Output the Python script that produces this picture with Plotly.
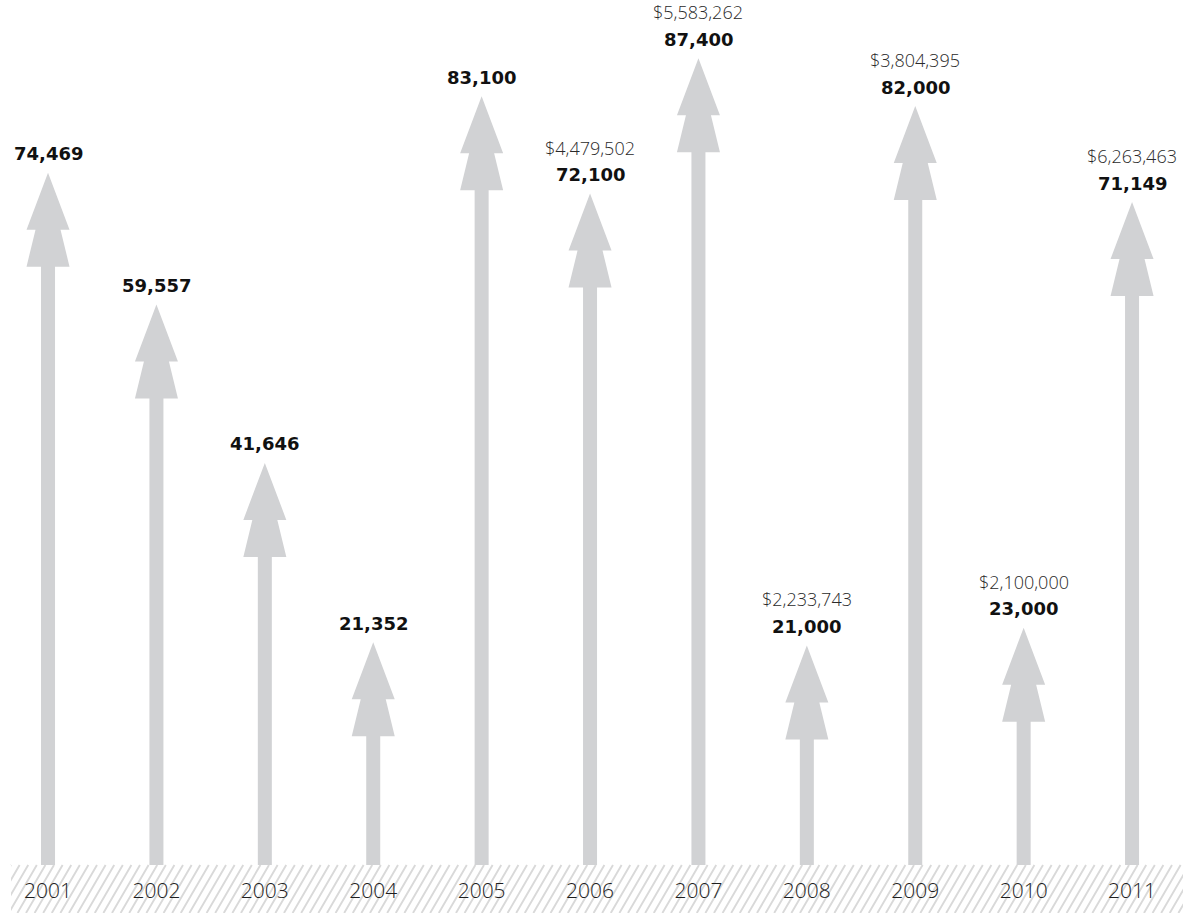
import plotly.graph_objects as go

# ---- data ----
years = [2001, 2002, 2003, 2004, 2005, 2006, 2007, 2008, 2009, 2010, 2011]
households = [74469, 59557, 41646, 21352, 83100, 72100, 87400, 21000, 82000, 23000, 71149]
dollars = [None, None, None, None, None, "$4,479,502", "$5,583,262",
           "$2,233,743", "$3,804,395", "$2,100,000", "$6,263,463"]
year_labels = [str(y) for y in years]

# ---- style ----
W, H = 1183, 913
MB = 48
Y_MIN, Y_MAX = -3834, 93997
X_MIN, X_MAX = 2000.557, 2011.47
GRAY = "#d1d2d4"

fig = go.Figure()

# invisible anchor points (hover)
fig.add_trace(go.Scatter(
    x=years, y=households, mode="markers",
    marker=dict(size=1, color="rgba(0,0,0,0)"),
    hovertemplate="%{x}: %{y:,}<extra></extra>", showlegend=False,
))

# arrows: pixel-sized path anchored at each data point; the shaft runs
# down and is clipped at the bottom of the plot area
arrow = ("M 0 0 L 21.5 -57 L 12.5 -57 L 21.5 -94 L 7 -94 L 7 -3000 "
         "L -7 -3000 L -7 -94 L -21.5 -94 L -12.5 -57 L -21.5 -57 Z")
shapes = []
for x, v in zip(years, households):
    shapes.append(dict(
        type="path", xref="x", yref="y",
        xsizemode="pixel", ysizemode="pixel",
        xanchor=x, yanchor=v, path=arrow,
        fillcolor=GRAY, line=dict(width=0), layer="above",
    ))

# hatched band below the plot
band_top = 0.0
band_bot = -MB / (H - MB)
parts = []
step = 8.6
dx = 28.0
px = 11 - dx
while px < W + 5:
    x0 = px / W
    x1 = (px + dx) / W
    parts.append(f"M {x0:.5f} {band_bot:.5f} L {x1:.5f} {band_top:.5f}")
    px += step
shapes.append(dict(
    type="path", xref="paper", yref="paper", path=" ".join(parts),
    line=dict(color="#d9d9d9", width=1.9), layer="below",
))
shapes.append(dict(
    type="rect", xref="paper", yref="paper",
    x0=-0.05, x1=11 / W, y0=band_bot - 0.01, y1=band_top,
    fillcolor="white", line=dict(width=0), layer="below",
))

annotations = []
for x, v, d in zip(years, households, dollars):
    annotations.append(dict(
        x=x, y=v, xref="x", yref="y", text=f"<b>{v:,}</b>",
        showarrow=False, yshift=19, xanchor="center", yanchor="middle",
        font=dict(family="DejaVu Sans", size=18, color="#111111"),
    ))
    if d:
        annotations.append(dict(
            x=x, y=v, xref="x", yref="y", text=d,
            showarrow=False, yshift=46, xanchor="center", yanchor="middle",
            font=dict(family="Open Sans", size=18, color="#2a2a2a", weight=300),
        ))

fig.update_layout(
    width=W, height=H,
    margin=dict(l=0, r=0, t=0, b=MB, pad=0),
    paper_bgcolor="white", plot_bgcolor="white",
    shapes=shapes, annotations=annotations,
    xaxis=dict(
        range=[X_MIN, X_MAX], tickmode="array", tickvals=years,
        ticktext=year_labels, showgrid=False, zeroline=False, showline=False,
        ticks="", ticklabelstandoff=11,
        tickfont=dict(family="Open Sans", size=21, color="#1e1e1e", weight=300),
        fixedrange=True,
    ),
    yaxis=dict(
        range=[Y_MIN, Y_MAX], showgrid=False, zeroline=False, showline=False,
        showticklabels=False, ticks="", fixedrange=True,
    ),
)

fig.write_html("out.html", post_script="document.body.style.margin='0';",
               config={"displayModeBar": False})
